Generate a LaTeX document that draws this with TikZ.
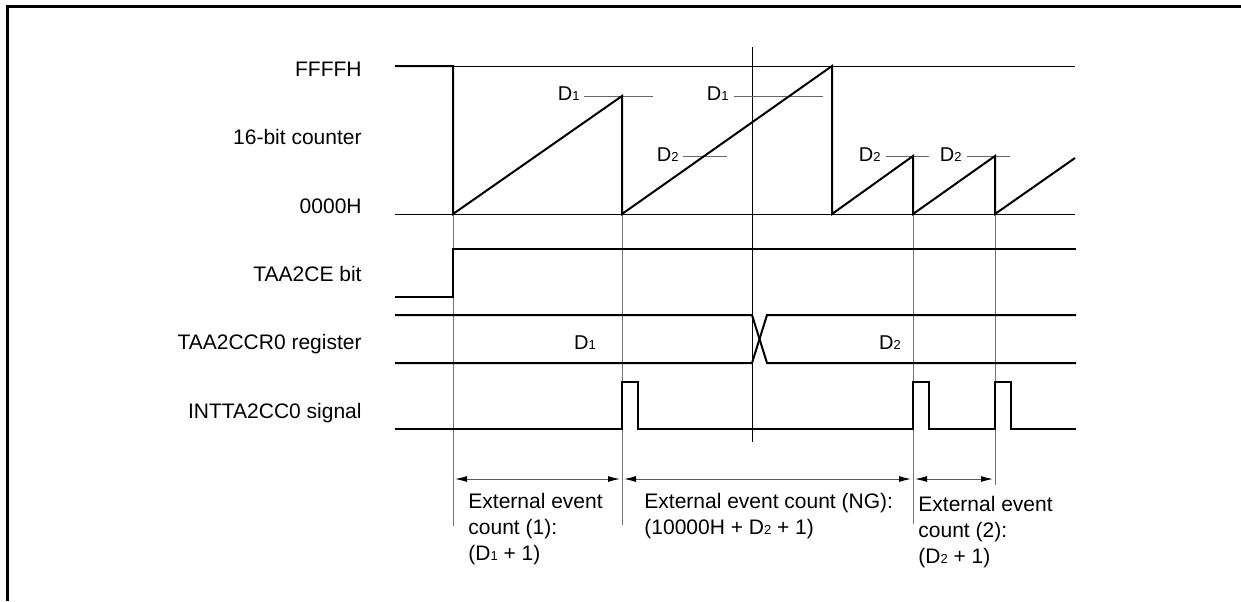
\documentclass[tikz,border=0pt]{standalone}
\usepackage{fontspec}
\setmainfont{Liberation Sans}
\usetikzlibrary{arrows.meta}
\newcommand{\dsub}[1]{{\fontsize{6.5}{7}\selectfont #1}}
\begin{document}
\begin{tikzpicture}[x=0.5pt,y=-0.5pt,
  sig/.style={line width=1pt, line join=miter},
  refline/.style={line width=0.5pt, draw=black},
  evline/.style={line width=0.5pt, draw=black!55},
  lvl/.style={line width=0.5pt, draw=black!60},
  lab/.style={font=\fontsize{10.5}{13}\selectfont, inner sep=0pt, anchor=base east},
  dlab/.style={font=\fontsize{10}{12}\selectfont, inner sep=0pt, anchor=base east},
  reglab/.style={font=\fontsize{10}{12}\selectfont, inner sep=0pt, anchor=base},
  note/.style={font=\fontsize{10.5}{13}\selectfont, inner sep=0pt, anchor=north west, align=left},
  dim/.style={line width=0.5pt, draw=black!65, shorten <=1pt, shorten >=1pt,
    {Latex[length=6pt,width=3pt,color=black]}-{Latex[length=6pt,width=3pt,color=black]}}
]
\useasboundingbox (0,0) rectangle (1241,601);
% frame
\draw[line width=1.5pt] (7,601) -- (7,6.5) -- (1241,6.5);

% signal labels
\node[lab] (lFFFF) at (362,76) {FFFFH};
\node[lab] (lcnt) at (362,144) {16-bit counter};
\node[lab] (l0000) at (362,213) {0000H};
\node[lab] (lce) at (362,281) {TAA2CE bit};
\node[lab] (lccr) at (362,349) {TAA2CCR0 register};
\node[lab] (lint) at (362,418) {INTTA2CC0 signal};

% reference levels
\draw[refline] (453,66) -- (1075,66);
\draw[refline] (395,214) -- (1075,214);

% event lines
\coordinate (e1t) at (453,214); \coordinate (e1b) at (453,526);
\coordinate (e2t) at (622,214); \coordinate (e2b) at (622,525);
\coordinate (e3t) at (913,214); \coordinate (e3b) at (913,524);
\coordinate (e4t) at (995,214); \coordinate (e4b) at (995,485);
\draw[evline] (e1t) -- (e1b);
\draw[evline] (e2t) -- (e2b);
\draw[evline] (e3t) -- (e3b);
\draw[evline] (e4t) -- (e4b);
\coordinate (wt) at (752,47); \coordinate (wb) at (752,442);
\draw[refline] (wt) -- (wb);

% compare levels
\draw[lvl] (584,96) -- (653,96);
\node[dlab] (d1a) at (580,100) {D\dsub{1}};
\draw[lvl] (683,156) -- (727,156);
\node[dlab] (d2a) at (679,161) {D\dsub{2}};
\draw[lvl] (734,96) -- (823,96);
\node[dlab] (d1b) at (729,100) {D\dsub{1}};
\draw[lvl] (886,156) -- (929,156);
\node[dlab] (d2b) at (881,161) {D\dsub{2}};
\draw[lvl] (967,156) -- (1010,156);
\node[dlab] (d2c) at (962,161) {D\dsub{2}};

% counter
\draw[sig] (395,66) -- (453,66) -- (453,214) -- (622,96) -- (622,214) -- (832,66)
  -- (832,214) -- (913,156) -- (913,214) -- (995,156) -- (995,214) -- (1075,158);

% TAA2CE
\draw[sig] (395,297) -- (453,297) -- (453,249) -- (1076,249);

% TAA2CCR0
\draw[sig] (395,315) -- (752,315) -- (767,363) -- (1076,363);
\draw[sig] (395,363) -- (752,363) -- (767,315) -- (1076,315);
\node[reglab] (rd1) at (585,349) {D\dsub{1}};
\node[reglab] (rd2) at (890,349) {D\dsub{2}};

% INTTA2CC0
\draw[sig] (395,429) -- (622,429) -- (622,382) -- (638,382) -- (638,429) -- (913,429)
  -- (913,382) -- (929,382) -- (929,429) -- (995,429) -- (995,382) -- (1011,382)
  -- (1011,429) -- (1076,429);

% dimension arrows
\coordinate (a1) at (453,479);
\coordinate (a2) at (622,479);
\coordinate (a3) at (913,479);
\coordinate (a4) at (995,479);
\draw[dim] (a1) -- (a2);
\draw[dim] (a2) -- (a3);
\draw[dim] (a3) -- (a4);

% notes
\node[note] (n1) at (468,493) {External event\\count (1):\\(D\dsub{1} + 1)};
\node[note] (n2) at (644,493) {External event count (NG):\\(10000H + D\dsub{2} + 1)};
\node[note] (n3) at (918,496) {External event\\count (2):\\(D\dsub{2} + 1)};
\end{tikzpicture}
\end{document}
